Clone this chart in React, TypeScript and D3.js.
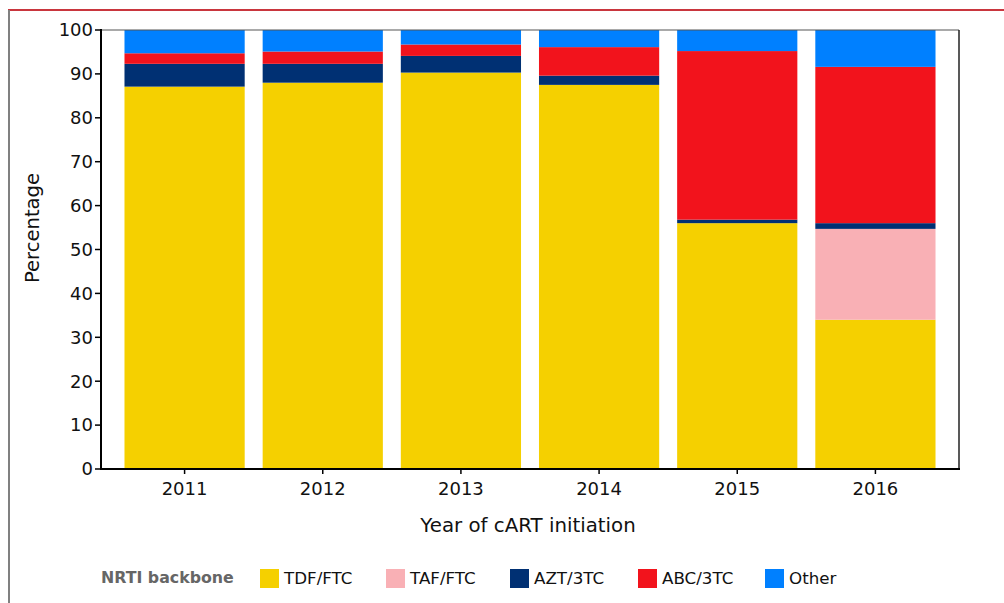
import React from "react";
import * as d3 from "d3";

const years = ["2011", "2012", "2013", "2014", "2015", "2016"];
const seriesNames = ["TDF/FTC", "TAF/FTC", "AZT/3TC", "ABC/3TC", "Other"];
const tdfFtc = [87.1, 88.0, 90.3, 87.5, 56.0, 34.0];
const tafFtc = [0, 0, 0, 0, 0, 20.7];
const aztTtc = [5.2, 4.3, 3.8, 2.1, 0.8, 1.3];
const abcTtc = [2.4, 2.8, 2.6, 6.5, 38.4, 35.6];
const other = [5.3, 4.9, 3.3, 3.9, 4.8, 8.4];
const colors = ["#F5D000", "#F9B0B5", "#003073", "#F2131C", "#0080FF"];
const yTicks = [0, 10, 20, 30, 40, 50, 60, 70, 80, 90, 100];

const FONT = "DejaVu Sans, Verdana, sans-serif";

export default function App() {
  const left = 101, right = 959, top = 30, bottom = 469;
  const x = d3.scaleBand().domain(years).range([left, right]).paddingInner(0.13).paddingOuter(0.17);
  const y = d3.scaleLinear().domain([0, 100]).range([bottom, top]);
  const table = years.map((yr, i) => ({
    year: yr,
    "TDF/FTC": tdfFtc[i],
    "TAF/FTC": tafFtc[i],
    "AZT/3TC": aztTtc[i],
    "ABC/3TC": abcTtc[i],
    Other: other[i],
  }));
  const stack = d3.stack<any>().keys(seriesNames)(table);
  const legendX = [260, 386, 510, 638, 765];

  return (
    <svg width={1004} height={603} style={{ position: "absolute", left: 0, top: 0, background: "#fff" }}>
      <line x1={8} x2={1004} y1={10} y2={10} stroke="#C9363E" strokeWidth={2} />
      <line x1={9} x2={9} y1={10} y2={603} stroke="#808080" strokeWidth={2} />
      {stack.map((s, si) => (
        <g key={seriesNames[si]} fill={colors[si]}>
          {s.map((d, i) => {
            const h = y(d[0]) - y(d[1]);
            if (h <= 0) return null;
            return (
              <rect key={i} x={x(years[i])!} width={x.bandwidth()} y={y(d[1])} height={h} />
            );
          })}
        </g>
      ))}
      {/* frame */}
      <line x1={left} x2={right} y1={top} y2={top} stroke="#555" strokeWidth={1.2} />
      <line x1={right} x2={right} y1={top} y2={bottom} stroke="#222" strokeWidth={1.5} />
      <line x1={left} x2={left} y1={top - 1} y2={bottom + 1} stroke="#000" strokeWidth={2} />
      <line x1={left - 1} x2={right + 1} y1={bottom} y2={bottom} stroke="#000" strokeWidth={2} />
      {yTicks.map((t) => (
        <g key={t}>
          <line x1={left - 6} x2={left} y1={y(t)} y2={y(t)} stroke="#000" strokeWidth={1.5} />
          <text x={left - 8} y={y(t)} dy="0.35em" textAnchor="end" fontFamily={FONT} fontSize={18} fill="#111">
            {t}
          </text>
        </g>
      ))}
      {years.map((yr) => {
        const cx = x(yr)! + x.bandwidth() / 2;
        return (
          <g key={yr}>
            <line x1={cx} x2={cx} y1={bottom} y2={bottom + 5} stroke="#000" strokeWidth={1.5} />
            <text x={cx} y={495} textAnchor="middle" fontFamily={FONT} fontSize={18} fill="#111">
              {yr}
            </text>
          </g>
        );
      })}
      <text x={528} y={532} textAnchor="middle" fontFamily={FONT} fontSize={19.8} fill="#111">
        Year of cART initiation
      </text>
      <text transform={`translate(39,228) rotate(-90)`} textAnchor="middle" fontFamily={FONT} fontSize={19.6} fill="#111">
        Percentage
      </text>
      <text x={101} y={583} fontFamily={FONT} fontSize={15.8} fontWeight="bold" fill="#666">
        NRTI backbone
      </text>
      {seriesNames.map((n, i) => (
        <g key={n}>
          <rect x={legendX[i]} y={569} width={19} height={19} fill={colors[i]} />
          <text x={legendX[i] + 24} y={584} fontFamily={FONT} fontSize={16.7} fill="#111">
            {n}
          </text>
        </g>
      ))}
    </svg>
  );
}
